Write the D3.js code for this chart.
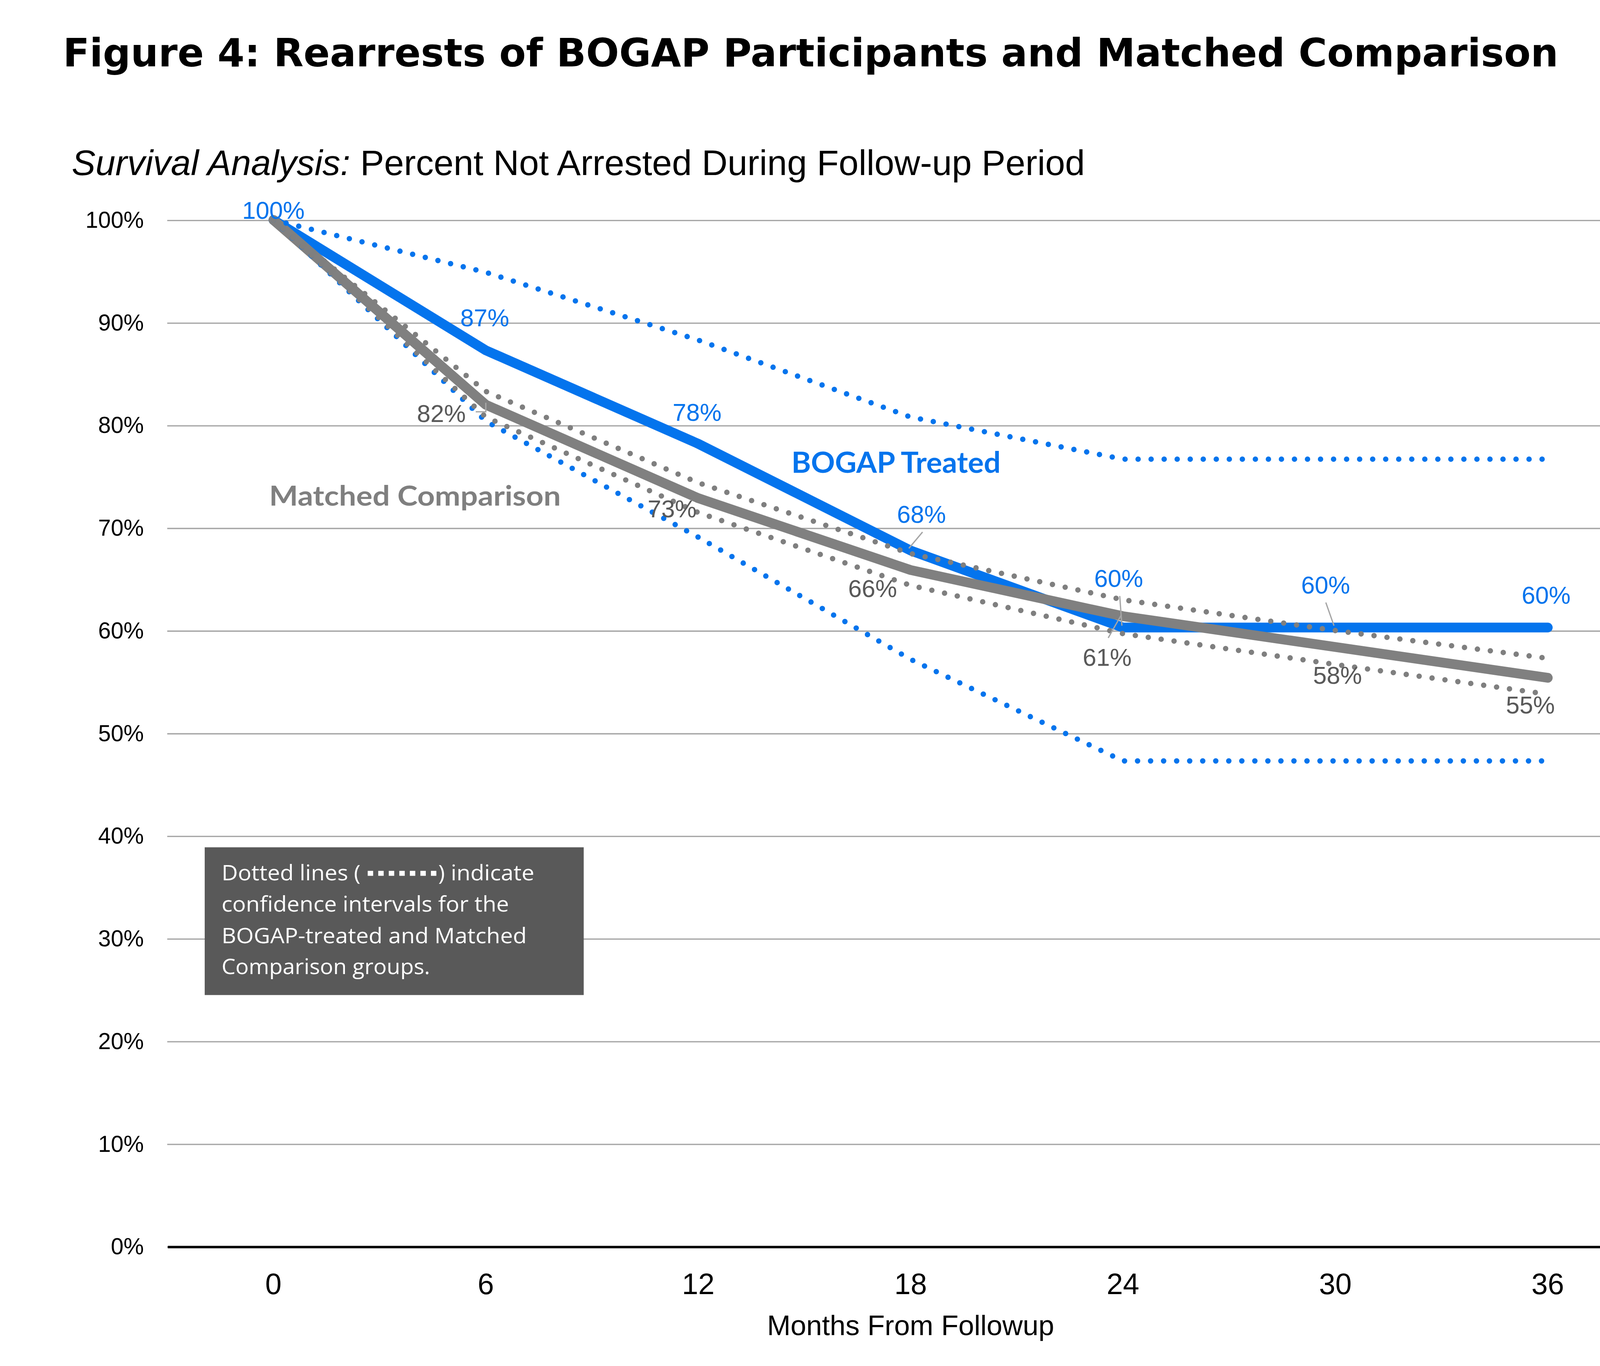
<!DOCTYPE html>
<html>
<head>
<meta charset="utf-8">
<script src="https://cdn.jsdelivr.net/npm/d3@7"></script>
<style>
  body { margin: 0; background: #fff; }
  svg { display: block; }
</style>
</head>
<body>
<div id="chart"></div>
<script>
// values (percent not arrested)
const months = ["0", "6", "12", "18", "24", "30", "36"];
const bogap = [100, 87.3, 78.2, 67.8, 60.3, 60.3, 60.3];
const bogapUpper = [100, 94.9, 88.3, 80.8, 76.7, 76.7, 76.7];
const bogapLower = [100, 80.4, 69.1, 57.2, 47.3, 47.3, 47.3];
const comparison = [100, 82.0, 72.9, 65.9, 61.4, 58.4, 55.4];
const compUpper = [100, 83.3, 74.4, 67.5, 63.0, 60.0, 57.3];
const compLower = [100, 80.8, 71.5, 64.4, 59.7, 56.7, 53.8];
const yTicks = [0, 10, 20, 30, 40, 50, 60, 70, 80, 90, 100];

// label nudges (dx, dy from the point), leader lines
const bogapLabelPos = [[0, -1], [-1, -22], [-1, -21], [10, -25.5], [-4, -37.5], [-9, -31.4], [-1.5, -22]];
const compLabelPos = [null, [-41, 16], [-24, 17.5], [-35, 25], [-14.6, 45.7], [2, 34], [-16, 33]];
const bogapLeaders = { 3: [[11, -17], [-1.6, -2]], 4: [[-3, -29], [-1, -1.7]], 5: [[-8.8, -23], [-1.3, -1.7]] };
const compLeaders = { 1: [[-9.3, 6.5], [0, 6.5], [0, -1.8]], 4: [[-1.5, -1.3], [-13.6, 20]] };

const W = 1560, H = 1257.5;
const blue = "#0474ED", gray = "#808080";

const svg = d3.select("#chart").append("svg")
  .attr("width", 4337).attr("height", 3496)
  .attr("viewBox", "0 0 " + W + " " + H)
  .attr("preserveAspectRatio", "none");

const x = d3.scaleBand().domain(months).range([154, 1523]);
const y = d3.scaleLinear().domain([0, 100]).range([1147.5, 202.5]);
const px = (d, i) => x(months[i]) + x.bandwidth() / 2;

// titles
svg.append("text")
  .attr("x", 58).attr("y", 61)
  .attr("font-family", "DejaVu Sans").attr("font-weight", "bold")
  .attr("font-size", 36).attr("textLength", 1377).attr("lengthAdjust", "spacingAndGlyphs")
  .text("Figure 4: Rearrests of BOGAP Participants and Matched Comparison");

const sub = svg.append("text")
  .attr("x", 66).attr("y", 161)
  .attr("font-family", "Liberation Sans, Arial").attr("font-size", 32.9);
sub.append("tspan").attr("font-style", "italic").text("Survival Analysis:");
sub.append("tspan").text(" Percent Not Arrested During Follow-up Period");

// gridlines + y labels
const yAxis = svg.append("g")
  .attr("transform", "translate(154,0)")
  .call(d3.axisLeft(y).tickValues(yTicks).tickSize(-(1523 - 154)).tickPadding(21.6).tickFormat(d => d + "%"));
yAxis.select(".domain").remove();
yAxis.selectAll(".tick line").attr("stroke", "#a6a6a6").attr("stroke-width", 1.2);
yAxis.selectAll(".tick text")
  .attr("font-family", "Liberation Sans, Arial").attr("font-size", 21).attr("fill", "#000");

// x axis
const xAxis = svg.append("g")
  .attr("transform", "translate(0," + y(0) + ")")
  .call(d3.axisBottom(x).tickSize(0).tickPadding(24.7));
xAxis.select(".domain").attr("stroke", "#000").attr("stroke-width", 2.3);
xAxis.selectAll(".tick text")
  .attr("font-family", "Liberation Sans, Arial").attr("font-size", 27).attr("fill", "#000");

svg.append("text")
  .attr("x", 838.5).attr("y", 1229).attr("text-anchor", "middle")
  .attr("font-family", "Liberation Sans, Arial").attr("font-size", 26)
  .text("Months From Followup");

// lines
const line = d3.line().x(px).y(d => y(d));

function solid(vals, color) {
  svg.append("path").datum(vals).attr("d", line)
    .attr("fill", "none").attr("stroke", color).attr("stroke-width", 9)
    .attr("stroke-linecap", "round").attr("stroke-linejoin", "round");
}
function dotted(vals, color) {
  svg.append("path").datum(vals).attr("d", line)
    .attr("fill", "none").attr("stroke", color).attr("stroke-width", 5)
    .attr("stroke-dasharray", "0 12").attr("stroke-linecap", "round");
}

solid(bogap, blue);
solid(comparison, gray);
dotted(bogapUpper, blue);
dotted(bogapLower, blue);
dotted(compUpper, "#7f7f7f");
dotted(compLower, "#7f7f7f");

// leader lines
function leaders(vals, spec) {
  Object.keys(spec).forEach(k => {
    const i = +k, cx = px(vals[i], i), cy = y(vals[i]);
    svg.append("path")
      .attr("d", d3.line()(spec[k].map(p => [cx + p[0], cy + p[1]])))
      .attr("fill", "none").attr("stroke", "#a6a6a6").attr("stroke-width", 1.2);
  });
}
leaders(bogap, bogapLeaders);
leaders(comparison, compLeaders);

// data labels
function labels(vals, pos, color) {
  svg.append("g").selectAll("text")
    .data(vals.map((v, i) => ({ v, i })).filter(d => pos[d.i]))
    .join("text")
    .attr("x", d => px(d.v, d.i) + pos[d.i][0])
    .attr("y", d => y(d.v) + pos[d.i][1])
    .attr("text-anchor", "middle")
    .attr("font-family", "Liberation Sans, Arial").attr("font-size", 22.5)
    .attr("fill", color)
    .text(d => Math.round(d.v) + "%");
}
labels(bogap, bogapLabelPos, blue);
labels(comparison, compLabelPos, "#595959");

// series names
svg.append("text")
  .attr("x", 728.7).attr("y", 435.3)
  .attr("font-family", "Lato").attr("font-weight", "bold").attr("font-size", 26.5)
  .attr("textLength", 192.7).attr("lengthAdjust", "spacingAndGlyphs")
  .attr("fill", blue).text("BOGAP Treated");
svg.append("text")
  .attr("x", 247.8).attr("y", 465.5)
  .attr("font-family", "Lato").attr("font-weight", "bold").attr("font-size", 25.8)
  .attr("textLength", 268.6).attr("lengthAdjust", "spacingAndGlyphs")
  .attr("fill", "#7f7f7f").text("Matched Comparison");

// note box
const note = svg.append("g");
note.append("rect").attr("x", 188.5).attr("y", 780).attr("width", 349).attr("height", 136).attr("fill", "#595959");
const noteText = (t, xx, yy, len) => note.append("text")
  .attr("x", xx).attr("y", yy)
  .attr("font-family", "Open Sans").attr("font-size", 20).attr("fill", "#fff")
  .attr("textLength", len).attr("lengthAdjust", "spacingAndGlyphs")
  .text(t);
noteText("Dotted lines (", 204, 810.4, 128);
note.append("line")
  .attr("x1", 338.6).attr("x2", 404).attr("y1", 804).attr("y2", 804)
  .attr("stroke", "#fff").attr("stroke-width", 4.6).attr("stroke-dasharray", "5 4.7");
noteText(") indicate", 403.5, 810.4, 88.5);
noteText("confidence intervals for the", 204, 839, 264.7);
noteText("BOGAP-treated and Matched", 204, 868.3, 281);
noteText("Comparison groups.", 204, 896.9, 192);
</script>
</body>
</html>
